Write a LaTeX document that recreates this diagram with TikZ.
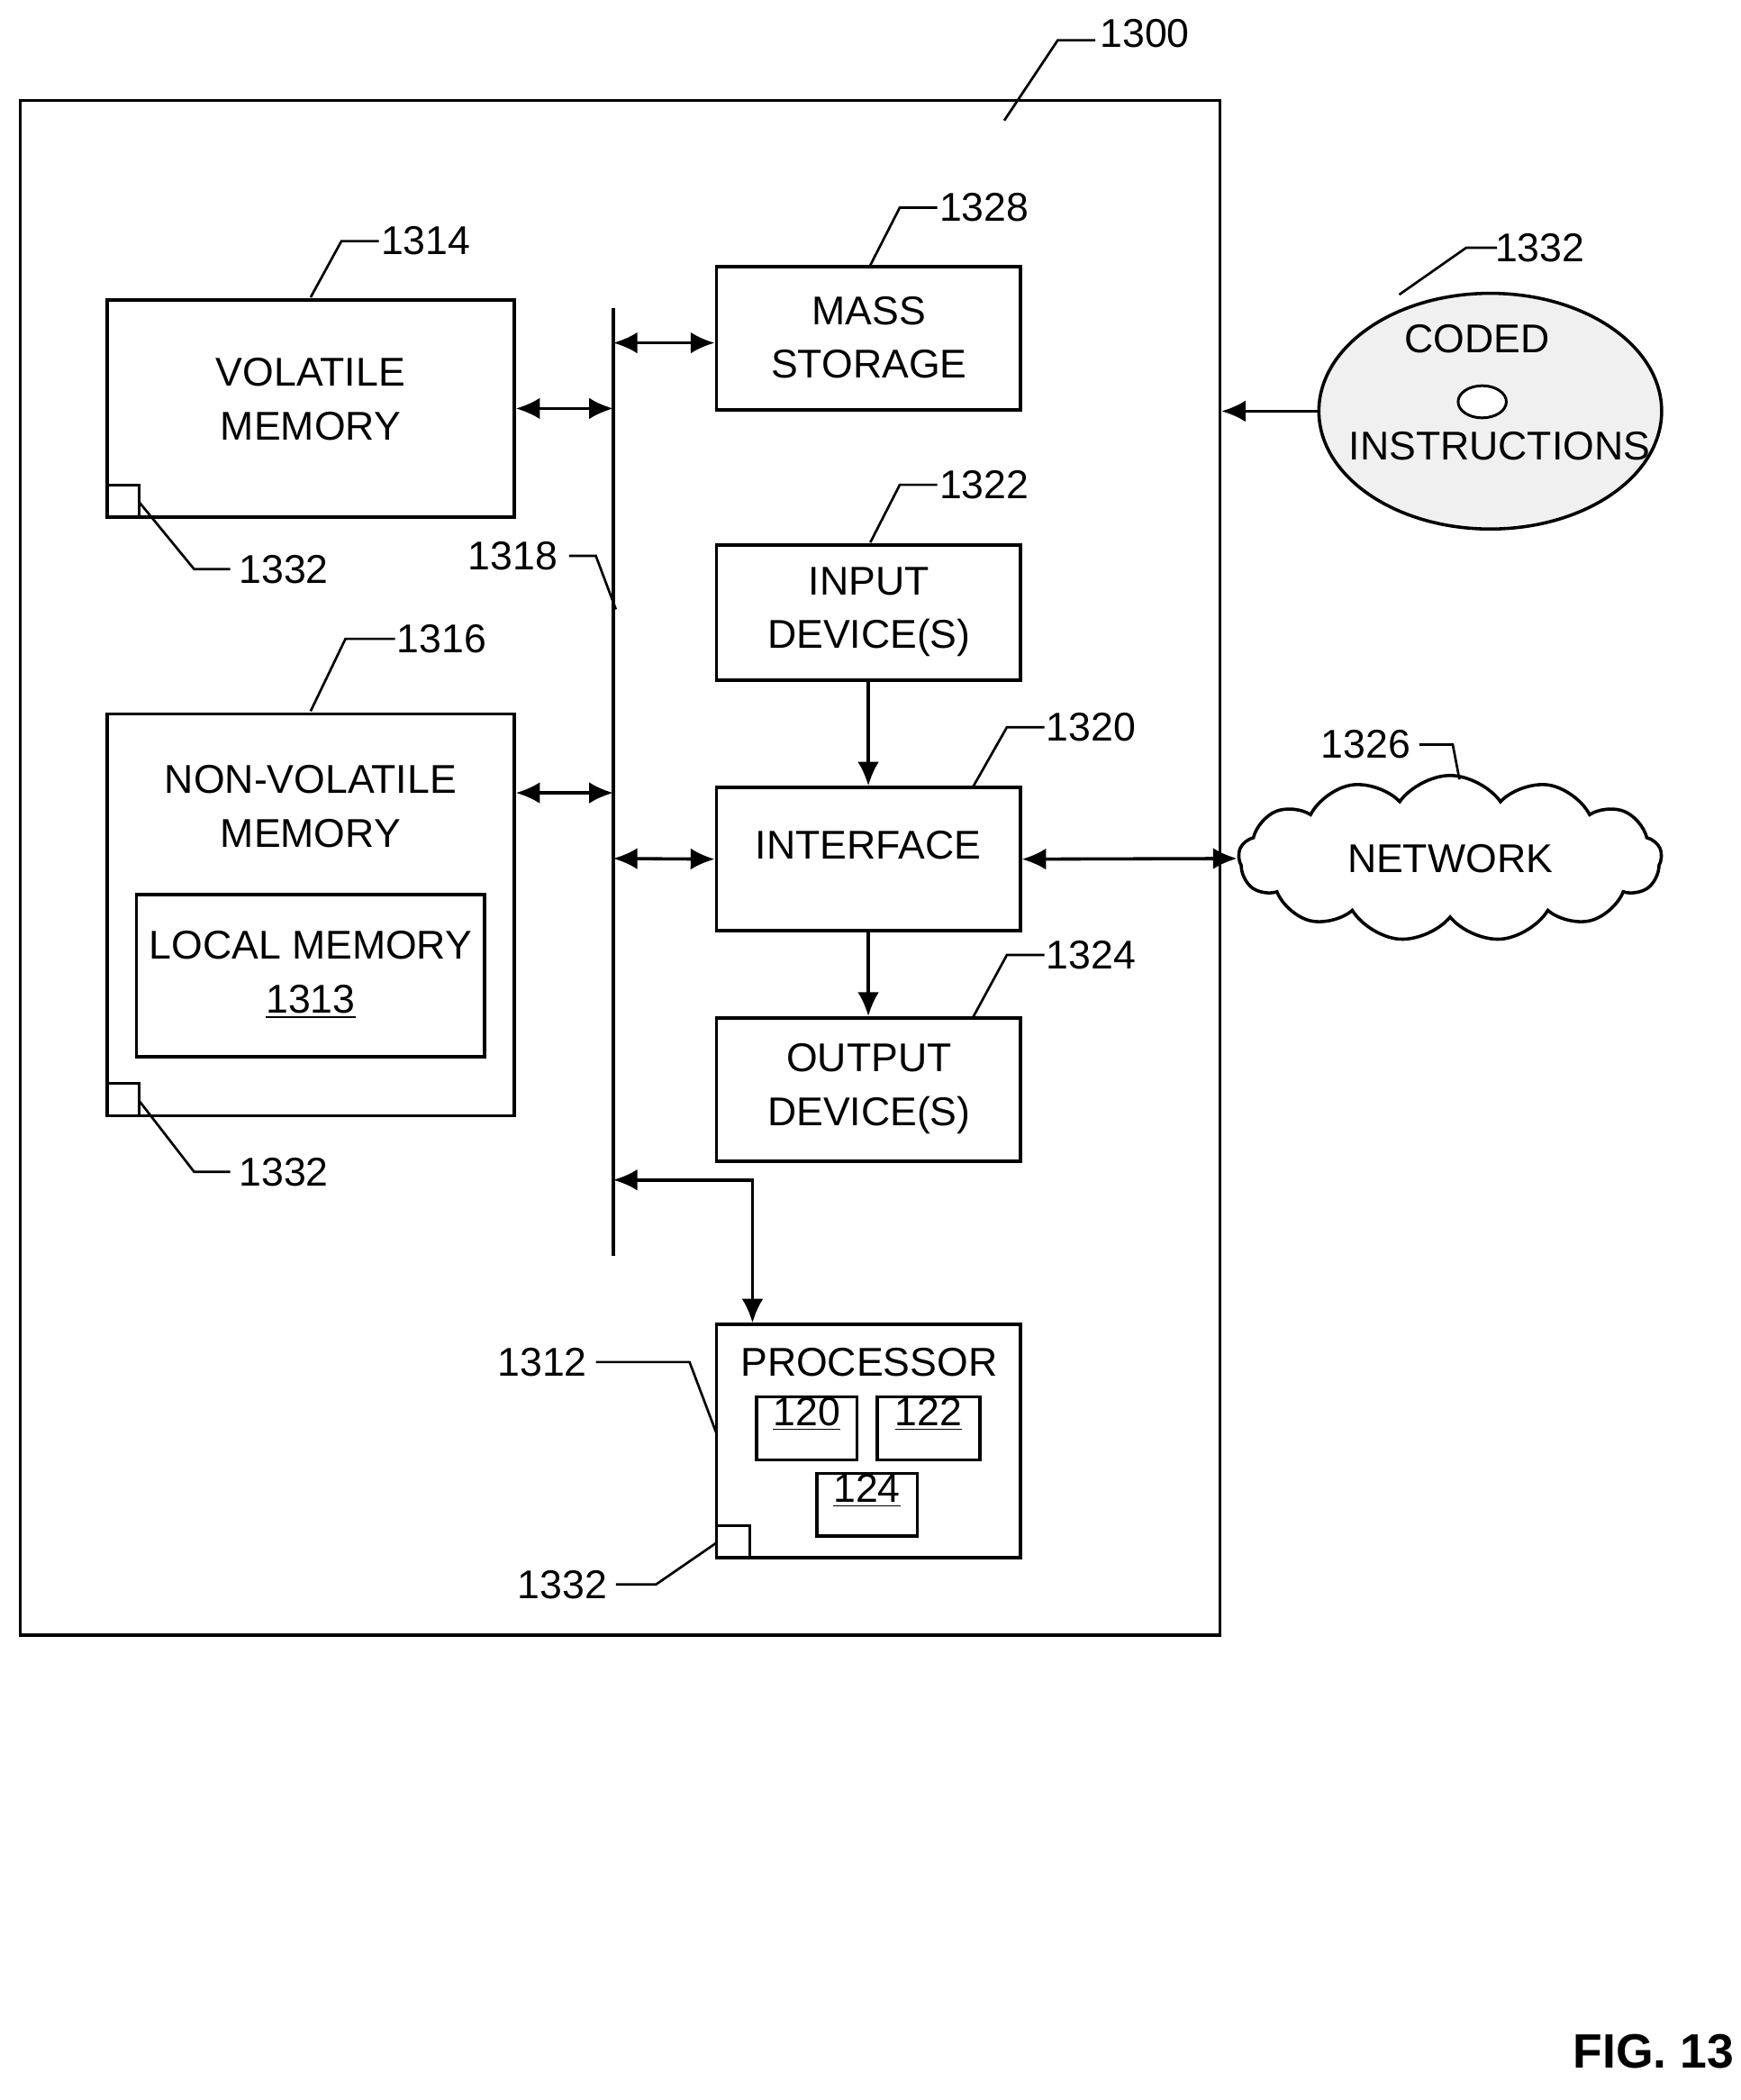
\documentclass[tikz,border=0pt]{standalone}
\usepackage{fontspec}
\setmainfont{Liberation Sans}
\usetikzlibrary{fit,shapes.symbols,arrows.meta,shapes.geometric}
\begin{document}
\begin{tikzpicture}[x=0.5pt,y=-0.5pt,
  box/.style={draw, line width=1.2pt, inner sep=0pt, align=center, font=\fontsize{15}{20}\selectfont},
  lbl/.style={font=\fontsize{15}{18}\selectfont},
  lead/.style={line width=0.9pt},
  dbl/.style={line width=1.2pt, {Latex[length=9pt,width=8pt]}-{Latex[length=9pt,width=8pt]}},
  sgl/.style={line width=1.2pt, -{Latex[length=9pt,width=8pt]}}]
\useasboundingbox (0,0) rectangle (1300,1568);
\node[draw, line width=1.2pt, inner sep=0pt, fit={(15,75)(911,1221)}] (outer) {};
\node[lbl] (l1300) at (855,25) {1300};
\draw[lead] (750,90) -- (790,30) -- (818,30);

% volatile
\node[box, fit={(80,224)(384,386)}] (vm) {};
\node[box, draw=none] at (232,298) {VOLATILE\\MEMORY};
\node[draw, line width=1pt, inner sep=0pt, fit={(80,362)(104,386)}] (sq1) {};
\node[lbl] (l1314) at (318,180) {1314};
\draw[lead] (232,222) -- (255,180) -- (283,180);
\node[lbl] (l1332a) at (212,425) {1332};
\draw[lead] (104,375) -- (145,425) -- (172,425);

% non-volatile
\node[box, fit={(80,533)(384,833)}] (nvm) {};
\node[box, draw=none] at (232,602) {NON-VOLATILE\\MEMORY};
\node[box, fit={(102,668)(362,789)}] (lm) {};
\node[box, draw=none] at (232,728) {LOCAL MEMORY\\\underline{1313}};
\node[draw, line width=1pt, inner sep=0pt, fit={(80,809)(104,833)}] (sq2) {};
\node[lbl] (l1316) at (330,477) {1316};
\draw[lead] (232,531) -- (258,477) -- (295,477);
\node[lbl] (l1332b) at (212,875) {1332};
\draw[lead] (104,822) -- (145,875) -- (172,875);

% bus
\coordinate (bt) at (458,230); \coordinate (bb) at (458,938);
\draw[line width=1.5pt] (bt) -- (bb);
\node[lbl] (l1318) at (383,415) {1318};
\draw[lead] (425,415) -- (445,415) -- (460,455);

% right column
\node[box, fit={(535,199)(762,306)}] (ms) {};
\node[box, draw=none] at (649,252) {MASS\\STORAGE};
\node[lbl] (l1328) at (735,155) {1328};
\draw[lead] (650,198) -- (672,155) -- (700,155);

\node[box, fit={(535,407)(762,508)}] (in) {};
\node[box, draw=none] at (649,457) {INPUT\\DEVICE(S)};
\node[lbl] (l1322) at (735,362) {1322};
\draw[lead] (650,405) -- (672,362) -- (700,362);

\node[box, fit={(535,588)(762,695)}] (if) {INTERFACE};
\node[lbl] (l1320) at (815,543) {1320};
\draw[lead] (727,587) -- (752,543) -- (780,543);

\node[box, fit={(535,760)(762,867)}] (out) {};
\node[box, draw=none] at (649,813) {OUTPUT\\DEVICE(S)};
\node[lbl] (l1324) at (815,713) {1324};
\draw[lead] (727,759) -- (752,713) -- (780,713);

\node[box, fit={(535,989)(762,1163)}] (proc) {};
\node[box, draw=none] at (649,1017) {PROCESSOR};
\node[box, fit={(565,1043)(640,1090)}] (p120) {\underline{120}};
\node[box, fit={(655,1043)(732,1090)}] (p122) {\underline{122}};
\node[box, fit={(610,1100)(685,1147)}] (p124) {\underline{124}};
\node[draw, line width=1pt, inner sep=0pt, fit={(535,1139)(560,1163)}] (sq3) {};
\node[lbl] (l1312) at (405,1017) {1312};
\draw[lead] (445,1017) -- (515,1017) -- (535,1070);
\node[lbl] (l1332c) at (420,1183) {1332};
\draw[lead] (460,1183) -- (490,1183) -- (535,1152);

% arrows
\draw[dbl] (458,256) -- (ms.west |- 0,256);
\draw[dbl] (vm.east |- 0,305) -- (458,305);
\draw[dbl] (nvm.east |- 0,592) -- (458,592);
\draw[dbl] (458,641) -- (if.west);
\draw[sgl] (in.south) -- (if.north);
\draw[sgl] (if.south) -- (out.north);
\draw[dbl] (458,881) -- (562,881) -- (proc.north -| 562,0);

% network
\node[cloud, cloud puffs=13, cloud puff arc=110, aspect=2.6, draw, line width=1.2pt, minimum width=158pt, minimum height=62pt, font=\fontsize{15}{18}\selectfont] (net) at (1083,641) {NETWORK};
\draw[dbl] (if.east) -- (net.west);
\node[lbl] (l1326) at (1020,556) {1326};
\draw[lead] (1060,556) -- (1085,556) -- (1090,582);

% disc
\node[ellipse, draw, line width=1.2pt, fill=gray!12, minimum width=128pt, minimum height=88pt] (disc) at (1113,307) {};
\node[ellipse, draw, line width=1pt, fill=white, minimum width=18pt, minimum height=12pt] (hole) at (1107,300) {};
\node[box, draw=none] at (1103,253) {CODED};
\node[box, draw=none] at (1120,333) {INSTRUCTIONS};
\node[lbl] (l1332d) at (1150,185) {1332};
\draw[lead] (1045,220) -- (1095,185) -- (1118,185);
\draw[sgl] (disc.west) -- (outer.east |- disc.west);

\node[font=\fontsize{18}{20}\selectfont\bfseries] (fig) at (1235,1532) {FIG. 13};
\end{tikzpicture}
\end{document}
